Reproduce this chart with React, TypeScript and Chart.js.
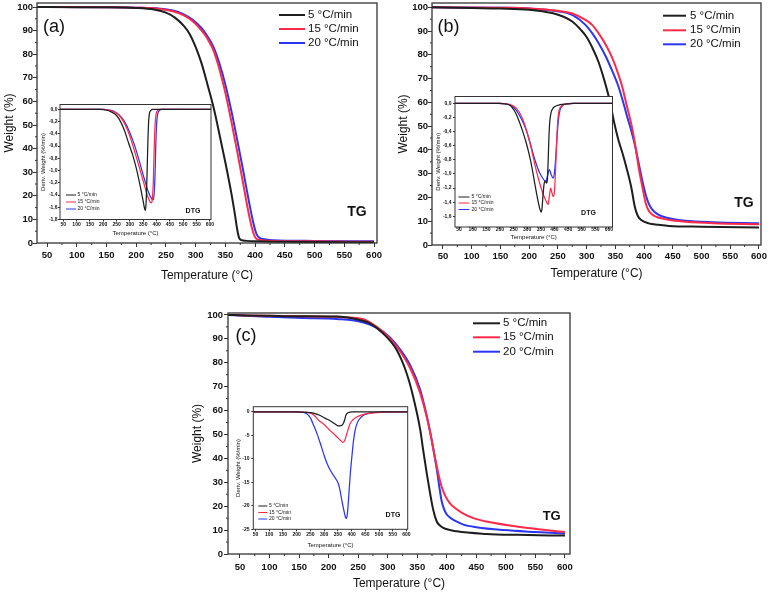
import React, { useEffect, useRef } from "react";
import { Chart, registerables } from "chart.js";
Chart.register(...registerables);

// ---------- colours / labels ----------
const BLACK = "#1e1e1e";
const RED = "#ff2a48";
const BLUE = "#2b36f2";
const FRAME = "#333333";
const TEXT = "#111111";
const FONT = "'Liberation Sans', Arial, Helvetica, sans-serif";
const RATE_LABELS = ["5 °C/min", "15 °C/min", "20 °C/min"];
const RATE_COLORS = [BLACK, RED, BLUE];

// ---------- ticks ----------
const TEMP_TICKS = [50, 100, 150, 200, 250, 300, 350, 400, 450, 500, 550, 600];
const TEMP_MINOR = [75, 125, 175, 225, 275, 325, 375, 425, 475, 525, 575];
const WEIGHT_TICKS = [0, 10, 20, 30, 40, 50, 60, 70, 80, 90, 100];
const WEIGHT_MINOR = [5, 15, 25, 35, 45, 55, 65, 75, 85, 95];
const DTG_A_TICKS = [0, -0.2, -0.4, -0.6, -0.8, -1.0, -1.2, -1.4, -1.6, -1.8];
const DTG_B_TICKS = [0, -0.2, -0.4, -0.6, -0.8, -1.0, -1.2, -1.4, -1.6];
const DTG_C_TICKS = [0, -5, -10, -15, -20, -25];

type P = [number, number][];

// ---------- (a) TG ----------
const A_TG_5: P = [[33,100],[100,99.95],[150,99.9],[200,99.6],[230,98.9],[250,97.6],[265,95.5],[280,92],[290,88.5],[300,83],[310,76],[320,67],[330,57.5],[340,46],[350,34],[360,21],[366,12],[370,5.5],[373,2.2],[377,1.2],[385,0.9],[400,0.7],[450,0.5],[500,0.4],[600,0.3]];
const A_TG_15: P = [[33,100],[150,99.9],[200,99.7],[240,99.2],[260,98.3],[280,96.5],[295,94],[310,90],[320,86.5],[330,81.5],[340,73.5],[350,63.5],[360,51.5],[370,38.5],[380,25],[388,14],[394,7],[398,3.5],[402,1.8],[410,1.2],[430,0.9],[500,0.7],[600,0.5]];
const A_TG_20: P = [[33,100],[150,99.9],[200,99.7],[240,99.3],[260,98.6],[280,96.9],[295,94.6],[310,91],[320,87.5],[330,83],[340,76],[350,67],[360,56],[370,43.5],[380,30.5],[390,17],[397,8.5],[402,4],[406,2.4],[415,1.6],[430,1.2],[500,0.9],[600,0.7]];
// ---------- (a) DTG ----------
const A_DTG_5: P = [[38,0],[190,0],[210,-0.01],[230,-0.04],[250,-0.1],[265,-0.2],[280,-0.35],[295,-0.55],[310,-0.74],[325,-0.98],[338,-1.24],[348,-1.46],[355,-1.62],[358,-1.65],[361,-1.5],[364,-1.1],[367,-0.6],[370,-0.22],[373,-0.07],[378,-0.02],[385,0],[604,0]];
const A_DTG_15: P = [[38,0],[200,0],[220,-0.01],[240,-0.04],[260,-0.1],[280,-0.23],[300,-0.44],[320,-0.72],[340,-1.02],[355,-1.25],[365,-1.4],[374,-1.5],[380,-1.53],[384,-1.47],[388,-1.15],[391,-0.65],[394,-0.28],[398,-0.08],[404,-0.02],[415,0],[604,0]];
const A_DTG_20: P = [[38,0],[200,0],[220,-0.01],[240,-0.03],[260,-0.09],[280,-0.2],[300,-0.38],[320,-0.62],[340,-0.92],[355,-1.15],[370,-1.36],[380,-1.45],[386,-1.48],[390,-1.42],[394,-1.1],[397,-0.6],[400,-0.25],[404,-0.08],[410,-0.02],[420,0],[604,0]];

// ---------- (b) TG ----------
const B_TG_5: P = [[31,100],[100,99.7],[150,99.5],[200,99],[240,97.6],[260,96],[275,94],[290,90.5],[300,87.5],[310,83],[320,77.5],[330,70],[340,61],[348,51.5],[355,44.5],[362,39],[370,32],[378,24],[384,16],[389,12.3],[395,10.5],[408,9.1],[425,8.5],[443,8],[500,7.7],[600,7.4]];
const B_TG_15: P = [[31,100],[150,99.8],[200,99.5],[250,98.5],[275,97.4],[298,94.7],[310,92.5],[321,89],[335,83.5],[345,78.5],[355,72],[362,66.6],[370,58.5],[379,49.5],[385,41.5],[391,32],[397,24.5],[403,17.5],[408,14.5],[414,12.8],[422,11.8],[432,11.1],[450,10.3],[472,9.8],[520,9.2],[600,8.7]];
const B_TG_20: P = [[31,100],[150,99.8],[200,99.5],[250,98.3],[275,96.8],[298,92.6],[310,89],[321,84.9],[333,79.5],[345,73],[355,67],[362,61.5],[370,54.5],[379,47],[385,41],[391,34],[397,27],[403,21],[408,17.5],[414,15],[422,13.2],[432,12],[450,10.9],[472,10.2],[520,9.6],[600,9.1]];
// ---------- (b) DTG ----------
const B_DTG_5: P = [[35,0],[200,0],[220,-0.01],[235,-0.025],[245,-0.06],[258,-0.14],[270,-0.25],[282,-0.38],[295,-0.54],[307,-0.72],[318,-0.92],[328,-1.14],[338,-1.35],[346,-1.49],[351,-1.54],[354,-1.5],[358,-1.3],[362,-1.14],[367,-1.1],[371,-1.13],[374,-1.08],[377,-0.8],[380,-0.45],[383,-0.25],[387,-0.14],[393,-0.08],[400,-0.05],[420,-0.02],[450,-0.01],[470,0],[613,0]];
const B_DTG_15: P = [[35,0],[200,0],[230,-0.01],[250,-0.04],[270,-0.12],[285,-0.24],[300,-0.42],[315,-0.64],[330,-0.9],[345,-1.12],[358,-1.28],[368,-1.37],[374,-1.42],[377,-1.43],[381,-1.32],[386,-1.2],[391,-1.27],[396,-1.32],[400,-1.24],[404,-0.95],[408,-0.55],[412,-0.25],[417,-0.1],[425,-0.04],[440,-0.01],[470,0],[613,0]];
const B_DTG_20: P = [[35,0],[190,0],[225,-0.01],[245,-0.04],[258,-0.09],[270,-0.16],[285,-0.27],[300,-0.42],[315,-0.62],[330,-0.82],[345,-0.98],[357,-1.06],[365,-1.1],[369,-1.11],[374,-1.03],[381,-0.94],[388,-1.01],[395,-1.06],[400,-0.98],[405,-0.75],[410,-0.45],[415,-0.22],[420,-0.1],[428,-0.04],[440,-0.01],[470,0],[613,0]];

// ---------- (c) TG ----------
const C_TG_5: P = [[30,100],[60,99.8],[100,99.6],[150,99.4],[214,99.3],[247,98.2],[270,96.5],[292,92.3],[315,85.4],[332,75.6],[343,65.9],[355,52],[360,43.5],[366,33.8],[372,25],[377,18.5],[383,13.6],[388,12],[394,10.9],[417,9.5],[467,8.4],[520,8],[600,7.7]];
const C_TG_15: P = [[30,100],[60,99.8],[100,99.6],[150,99.4],[214,99.2],[247,98.7],[260,98.1],[270,96.9],[292,93],[315,86.8],[338,77.7],[355,67.3],[371,52],[377,44],[383,36.6],[391,28.3],[398,24],[405,21.3],[415,19],[428,16.9],[445,15],[467,13.6],[524,11.3],[600,9.2]];
const C_TG_20: P = [[30,100],[60,99.6],[100,99.2],[157,98.7],[214,98.3],[259,96.8],[292,93],[315,87.5],[338,79],[355,68.7],[371,52],[383,35.5],[388,27],[391,22.5],[395,19],[400,16.5],[408,14.8],[417,13.5],[428,12.3],[450,11.2],[496,10],[550,9.2],[600,8.6]];
// ---------- (c) DTG ----------
const C_DTG_5: P = [[42,0],[200,0],[225,-0.05],[250,-0.2],[270,-0.45],[286,-0.8],[305,-1.4],[322,-1.9],[340,-2.6],[352,-3.0],[362,-2.95],[370,-2.5],[375,-1.7],[379,-0.8],[384,-0.35],[392,-0.12],[405,-0.03],[420,0],[605,0]];
const C_DTG_15: P = [[42,0],[200,0],[230,-0.1],[255,-0.4],[268,-1.0],[280,-1.8],[298,-2.6],[322,-4.0],[346,-5.3],[360,-6.1],[368,-6.5],[375,-6.1],[383,-4.6],[395,-2.5],[405,-1.7],[419,-1.1],[435,-0.7],[455,-0.4],[485,-0.2],[515,-0.1],[550,0],[605,0]];
const C_DTG_20: P = [[42,0],[180,0],[205,-0.05],[225,-0.15],[237,-0.4],[250,-1.3],[262,-2.9],[275,-4.8],[286,-6.7],[298,-8.9],[310,-10.9],[322,-12.4],[334,-13.5],[345,-14.5],[352,-15.3],[358,-16.7],[364,-18.7],[372,-21],[378,-22.5],[381,-22.7],[385,-21.5],[389,-18.5],[395,-13.5],[401,-9.6],[407,-6.2],[413,-3.9],[422,-2.2],[431,-1.4],[445,-0.7],[467,-0.3],[490,-0.1],[520,0],[605,0]];

// ---------- panel spec ----------
interface Note { text: string; x: number; y: number; size: number; weight: string }
interface Spec {
  plot: [number, number, number, number];
  xRange: [number, number];
  yRange: [number, number];
  yTicks: number[];
  xMinor: number[];
  yMinor: number[];
  yFmt: (v: number) => string;
  tickSize: number;
  tickLen: number;
  minorLen: number;
  yTickRight: number;
  xTickCenterY: number;
  titleSize: number;
  xTitleY: number;
  yTitleX: number;
  yTitle: string;
  series: P[];
  lineWidth: number;
  frameWidth: number;
  legend: { x0: number; x1: number; tx: number; rows: number[]; size: number; lw: number };
  notes: Note[];
  whiteBg: boolean;
  margin: number;
}

const intFmt = (v: number) => String(Math.round(v));
const commaFmt = (v: number) => v.toFixed(1).replace(".", ",").replace("-0,0", "0,0");

const mainBase = {
  yTicks: WEIGHT_TICKS, xMinor: TEMP_MINOR, yMinor: WEIGHT_MINOR, yFmt: intFmt,
  tickSize: 9.5, tickLen: 4, minorLen: 2, titleSize: 12, yTitle: "Weight (%)",
  lineWidth: 2, frameWidth: 1.3, whiteBg: false, margin: 12,
};
const insetBase = {
  xMinor: [] as number[], yMinor: [] as number[], yFmt: commaFmt,
  tickSize: 5, tickLen: 2, minorLen: 0, titleSize: 6, yTitle: "Deriv. Weight (%/min)",
  lineWidth: 1.25, frameWidth: 1, whiteBg: true, margin: 6,
};

const SPECS: Spec[] = [
  { ...mainBase, plot: [37, 3, 377, 243], xRange: [33, 605], yRange: [0, 101.7],
    yTickRight: 33, xTickCenterY: 255, xTitleY: 276, yTitleX: 10, series: [A_TG_5, A_TG_15, A_TG_20],
    legend: { x0: 279, x1: 305, tx: 308, rows: [15, 29, 43], size: 11.5, lw: 2 },
    notes: [{ text: "(a)", x: 54, y: 27.5, size: 18, weight: "normal" }, { text: "TG", x: 357, y: 212, size: 14, weight: "bold" }] },
  { ...insetBase, plot: [60, 104.5, 211, 219.5], xRange: [38, 604], yRange: [-1.8, 0.08], yTicks: DTG_A_TICKS,
    yTickRight: 57.5, xTickCenterY: 224.5, xTitleY: 233, yTitleX: 43, series: [A_DTG_5, A_DTG_15, A_DTG_20],
    legend: { x0: 66, x1: 76, tx: 77.5, rows: [195, 202, 209], size: 5, lw: 1 },
    notes: [{ text: "DTG", x: 193, y: 211, size: 7, weight: "bold" }] },
  { ...mainBase, plot: [432, 3, 761, 245], xRange: [31, 603.5], yRange: [0, 101.8],
    yTickRight: 428, xTickCenterY: 256.7, xTitleY: 274, yTitleX: 404, series: [B_TG_5, B_TG_15, B_TG_20],
    legend: { x0: 663, x1: 686, tx: 690, rows: [15.7, 30.3, 44.3], size: 11.5, lw: 2 },
    notes: [{ text: "(b)", x: 448.5, y: 27.5, size: 18, weight: "normal" }, { text: "TG", x: 744, y: 203, size: 14, weight: "bold" }] },
  { ...insetBase, plot: [455, 96.5, 612.5, 227], xRange: [35, 613], yRange: [-1.75, 0.096], yTicks: DTG_B_TICKS,
    yTickRight: 451.5, xTickCenterY: 230, xTitleY: 237.5, yTitleX: 438, series: [B_DTG_5, B_DTG_15, B_DTG_20],
    legend: { x0: 458.5, x1: 469.5, tx: 471.5, rows: [197, 203, 209.5], size: 5, lw: 1 },
    notes: [{ text: "DTG", x: 588.5, y: 213, size: 7, weight: "bold" }] },
  { ...mainBase, plot: [228, 313, 570, 554], xRange: [29.7, 608.5], yRange: [0, 100.8],
    yTickRight: 223, xTickCenterY: 567, xTitleY: 584, yTitleX: 198, series: [C_TG_5, C_TG_15, C_TG_20],
    legend: { x0: 473, x1: 500, tx: 503, rows: [323.3, 337.3, 351.7], size: 11.5, lw: 2 },
    notes: [{ text: "(c)", x: 246, y: 336.5, size: 18, weight: "normal" }, { text: "TG", x: 551.7, y: 516.7, size: 13, weight: "bold" }] },
  { ...insetBase, plot: [253.3, 406.7, 407.7, 529.3], xRange: [42, 604.5], yRange: [-25, 1.08], yTicks: DTG_C_TICKS,
    yFmt: intFmt, yTickRight: 249.5, xTickCenterY: 535, xTitleY: 545, yTitleX: 238.5, series: [C_DTG_5, C_DTG_15, C_DTG_20],
    legend: { x0: 258.3, x1: 267.3, tx: 269, rows: [506, 512.5, 519], size: 5, lw: 1 },
    notes: [{ text: "DTG", x: 393, y: 515, size: 7, weight: "bold" }] },
];

function geometry(s: Spec) {
  const [l, t, r, b] = s.plot;
  const tlh = s.titleSize * 1.2;
  const cl = Math.floor(s.yTitleX - tlh / 2 - 2);
  const ct = Math.floor(t - s.margin);
  const cr = Math.ceil(r + s.margin);
  const cb = Math.ceil(s.xTitleY + tlh / 2 + 2);
  return {
    cl, ct, cw: cr - cl, ch: cb - ct,
    W: l - cl, H: cb - b, padTop: t - ct, padRight: cr - r,
    yTitlePad: s.yTitleX - cl - tlh / 2,
    xTitlePad: cb - s.xTitleY - tlh / 2,
    yTickPad: l - s.tickLen - s.yTickRight,
    xTickPad: s.xTickCenterY - b - s.tickLen - (s.tickSize * 1.2) / 2,
  };
}

function Panel({ spec }: { spec: Spec }) {
  const ref = useRef<HTMLCanvasElement>(null);
  const g = geometry(spec);
  useEffect(() => {
    if (!ref.current) return;
    const s = spec;
    const tickFont = { family: FONT, size: s.tickSize, weight: "bold" as const };
    const titleFont = { family: FONT, size: s.titleSize, weight: "normal" as const };
    const overlay = {
      id: "overlay",
      beforeDatasetsDraw(chart: any) {
        if (!s.whiteBg) return;
        const { ctx, chartArea: ca } = chart;
        ctx.save();
        ctx.fillStyle = "#ffffff";
        ctx.fillRect(ca.left, ca.top, ca.right - ca.left, ca.bottom - ca.top);
        ctx.restore();
      },
      afterDatasetsDraw(chart: any) {
        const { ctx, chartArea: ca } = chart;
        const xs = chart.scales.x, ys = chart.scales.y;
        ctx.save();
        ctx.strokeStyle = FRAME;
        ctx.lineWidth = s.frameWidth;
        ctx.strokeRect(ca.left, ca.top, ca.right - ca.left, ca.bottom - ca.top);
        ctx.lineWidth = 1;
        ctx.beginPath();
        for (const v of s.xMinor) {
          const px = xs.getPixelForValue(v);
          ctx.moveTo(px, ca.bottom); ctx.lineTo(px, ca.bottom + s.minorLen);
        }
        for (const v of s.yMinor) {
          const py = ys.getPixelForValue(v);
          ctx.moveTo(ca.left - s.minorLen, py); ctx.lineTo(ca.left, py);
        }
        ctx.stroke();
        // legend
        const L = s.legend;
        ctx.textBaseline = "middle";
        ctx.textAlign = "left";
        ctx.font = `normal ${L.size}px ${FONT}`;
        RATE_LABELS.forEach((lab, i) => {
          const y = L.rows[i] - g.ct;
          ctx.strokeStyle = RATE_COLORS[i];
          ctx.lineWidth = L.lw;
          ctx.beginPath();
          ctx.moveTo(L.x0 - g.cl, y); ctx.lineTo(L.x1 - g.cl, y);
          ctx.stroke();
          ctx.fillStyle = TEXT;
          ctx.fillText(lab, L.tx - g.cl, y);
        });
        // notes
        ctx.textAlign = "center";
        for (const n of s.notes) {
          ctx.font = `${n.weight} ${n.size}px ${FONT}`;
          ctx.fillStyle = TEXT;
          ctx.fillText(n.text, n.x - g.cl, n.y - g.ct);
        }
        ctx.restore();
      },
    };
    const chart = new Chart(ref.current, {
      type: "line",
      data: {
        datasets: s.series.map((pts, i) => ({
          label: RATE_LABELS[i],
          data: pts.map(([x, y]) => ({ x, y })),
          borderColor: RATE_COLORS[i],
          backgroundColor: RATE_COLORS[i],
          borderWidth: s.lineWidth,
          pointRadius: 0,
          fill: false,
          cubicInterpolationMode: "monotone" as const,
        })),
      },
      options: {
        responsive: true,
        maintainAspectRatio: false,
        animation: false,
        events: [],
        layout: { padding: { left: 0, top: g.padTop, right: g.padRight, bottom: 0 } },
        plugins: { legend: { display: false }, tooltip: { enabled: false }, title: { display: false } },
        scales: {
          x: {
            type: "linear", position: "bottom", min: s.xRange[0], max: s.xRange[1],
            afterBuildTicks: (sc: any) => { sc.ticks = TEMP_TICKS.map((v) => ({ value: v })); },
            afterFit: (sc: any) => { sc.height = g.H; sc.paddingLeft = 0; sc.paddingRight = 0; sc.paddingTop = 0; sc.paddingBottom = 0; },
            ticks: { autoSkip: false, maxRotation: 0, minRotation: 0, padding: g.xTickPad, font: tickFont, color: TEXT,
              callback: (v: any) => intFmt(Number(v)) },
            grid: { display: true, drawOnChartArea: false, drawTicks: true, tickLength: s.tickLen, tickColor: FRAME, tickWidth: 1 },
            border: { display: false },
            title: { display: true, text: "Temperature (°C)", font: titleFont, color: TEXT, padding: { top: 0, bottom: g.xTitlePad } },
          },
          y: {
            type: "linear", position: "left", min: s.yRange[0], max: s.yRange[1],
            afterBuildTicks: (sc: any) => { sc.ticks = s.yTicks.map((v) => ({ value: v })); },
            afterFit: (sc: any) => { sc.width = g.W; sc.paddingLeft = 0; sc.paddingRight = 0; sc.paddingTop = 0; sc.paddingBottom = 0; },
            ticks: { autoSkip: false, padding: g.yTickPad, font: tickFont, color: TEXT,
              callback: (v: any) => s.yFmt(Number(v)) },
            grid: { display: true, drawOnChartArea: false, drawTicks: true, tickLength: s.tickLen, tickColor: FRAME, tickWidth: 1 },
            border: { display: false },
            title: { display: true, text: s.yTitle, font: titleFont, color: TEXT, padding: { top: g.yTitlePad, bottom: 0 } },
          },
        },
      },
      plugins: [overlay],
    } as any);
    return () => chart.destroy();
  }, []);
  return (
    <div style={{ position: "absolute", left: g.cl, top: g.ct, width: g.cw, height: g.ch }}>
      <canvas ref={ref} />
    </div>
  );
}

export default function App() {
  return (
    <div style={{ position: "fixed", left: 0, top: 0, width: 772, height: 592, background: "#ffffff", overflow: "hidden" }}>
      {SPECS.map((s, i) => (
        <Panel key={i} spec={s} />
      ))}
    </div>
  );
}
